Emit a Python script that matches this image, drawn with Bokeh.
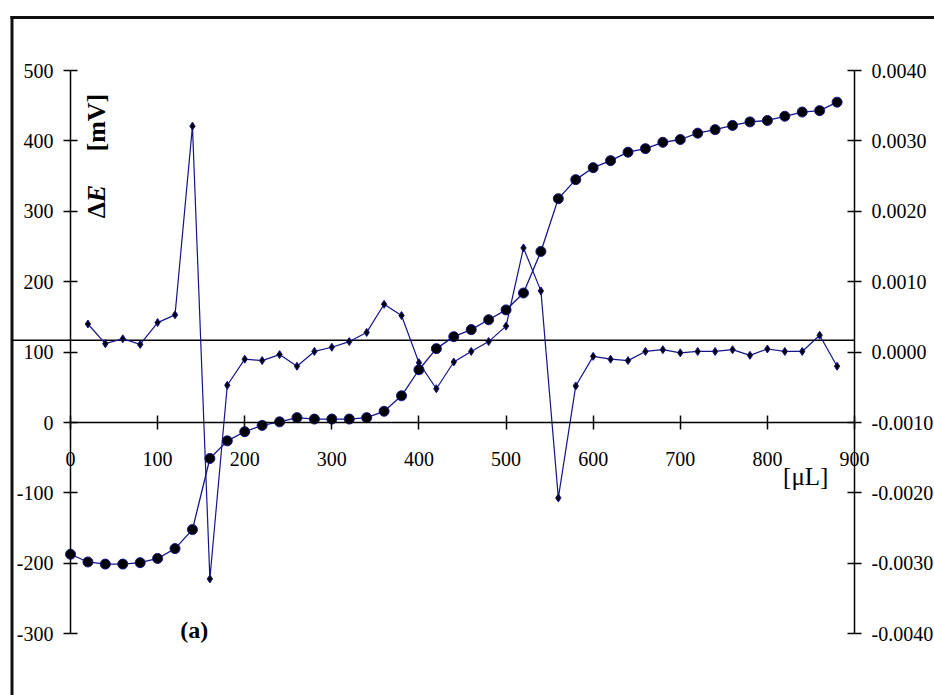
from bokeh.plotting import figure
from bokeh.models import (Range1d, LinearAxis, FixedTicker, PrintfTickFormatter,
                          Label)
from bokeh.embed import file_html
from bokeh.resources import INLINE
import math

# ---- data ----
volume_e = [0, 20, 40, 60, 80, 100, 120, 140, 160, 180, 200, 220, 240, 260, 280,
            300, 320, 340, 360, 380, 400, 420, 440, 460, 480, 500, 520, 540, 560,
            580, 600, 620, 640, 660, 680, 700, 720, 740, 760, 780, 800, 820, 840,
            860, 880]
delta_e_mv = [-187, -198, -201, -201, -199, -193, -179, -152, -51, -26, -13, -4, 1,
              7, 5, 5, 5, 7, 16, 38, 75, 105, 122, 132, 146, 160, 184, 243, 318,
              345, 362, 372, 384, 389, 398, 402, 411, 416, 422, 427, 429, 435, 441,
              443, 455]

volume_d = [20, 40, 60, 80, 100, 120, 140, 160, 180, 200, 220, 240, 260, 280, 300,
            320, 340, 360, 380, 400, 420, 440, 460, 480, 500, 520, 540, 560, 580,
            600, 620, 640, 660, 680, 700, 720, 740, 760, 780, 800, 820, 840, 860,
            880]
derivative = [0.00040, 0.00012, 0.00019, 0.00011, 0.00042, 0.00053, 0.00321,
              -0.00322, -0.00047, -0.00010, -0.00012, -0.000035, -0.00020, 0.00001,
              0.00007, 0.00015, 0.00028, 0.00068, 0.00052, -0.00015, -0.00052,
              -0.00014, 0.00001, 0.00015, 0.00037, 0.00148, 0.00087, -0.00207,
              -0.00048, -0.00006, -0.00010, -0.00012, 0.00001, 0.000035, -0.00001,
              0.00001, 0.00001, 0.000035, -0.000045, 0.000045, 0.00001, 0.00001,
              0.00024, -0.00020]

x_ticks = [0, 100, 200, 300, 400, 500, 600, 700, 800, 900]
left_ticks = [-300, -200, -100, 0, 100, 200, 300, 400, 500]
right_ticks = [-0.004, -0.003, -0.002, -0.001, 0.0, 0.001, 0.002, 0.003, 0.004]
secondary_baseline = 0.00017   # horizontal line drawn on the secondary scale

# ---- layout constants (pixels in the 934x695 page) ----
W, H = 934, 695
X0_PX, X1_PX = 70, 854          # where x = 0 and x = 900 fall
Y_TOP_PX, Y_BOT_PX = 70, 633.3  # where y = 500 and y = -300 fall
X_LO, X_HI = 0, 900
L_LO, L_HI = -300, 500
R_LO, R_HI = -0.004, 0.004
BORDER_LEFT_PX, BORDER_TOP_PX = 11.5, 17

pxx = (X1_PX - X0_PX) / (X_HI - X_LO)
pxy = (Y_BOT_PX - Y_TOP_PX) / (L_HI - L_LO)
x_start = X_LO - X0_PX / pxx
x_end = X_LO + (W - X0_PX) / pxx
y_end = L_HI + Y_TOP_PX / pxy
y_start = y_end - H / pxy


def to_right(v):
    return R_LO + (v - L_LO) / (L_HI - L_LO) * (R_HI - R_LO)


def to_left(r):
    return L_LO + (r - R_LO) / (R_HI - R_LO) * (L_HI - L_LO)


SERIF = "Liberation Serif"
NAVY = "#14148c"

p = figure(width=W, height=H, output_backend="svg", toolbar_location=None,
           x_range=Range1d(x_start, x_end), y_range=Range1d(y_start, y_end),
           min_border=0, outline_line_color=None,
           background_fill_color="white", border_fill_color="white",
           x_axis_location=None, y_axis_location=None)
p.grid.visible = False
p.extra_y_ranges = {"deriv": Range1d(to_right(y_start), to_right(y_end))}


def style_axis(ax):
    ax.major_tick_in = 7
    ax.major_tick_out = 7
    ax.minor_tick_line_color = None
    ax.major_label_text_font = SERIF
    ax.major_label_text_font_size = "20px"
    ax.major_label_text_color = "black"
    ax.axis_line_color = "black"
    ax.axis_line_width = 1.5
    ax.major_tick_line_color = "black"
    ax.major_tick_line_width = 1.5


# x axis crossing at y = 0
xa = LinearAxis(ticker=FixedTicker(ticks=x_ticks),
                formatter=PrintfTickFormatter(format="%d"),
                fixed_location=0, bounds=(X_LO, X_HI))
style_axis(xa)
xa.major_label_standoff = 22
p.add_layout(xa, "below")

ya = LinearAxis(ticker=FixedTicker(ticks=left_ticks),
                formatter=PrintfTickFormatter(format="%d"),
                fixed_location=X_LO, bounds=(L_LO, L_HI))
style_axis(ya)
ya.major_label_standoff = 10
p.add_layout(ya, "left")

ra = LinearAxis(y_range_name="deriv", ticker=FixedTicker(ticks=right_ticks),
                formatter=PrintfTickFormatter(format="%.4f"),
                fixed_location=X_HI, bounds=(R_LO, R_HI))
style_axis(ra)
ra.major_label_standoff = 10
p.add_layout(ra, "right")

# chart-area border (only its top and left edges fall inside the page)
border_x = x_start + BORDER_LEFT_PX / pxx
border_y = y_end - BORDER_TOP_PX / pxy
p.segment(x0=[border_x, border_x], y0=[y_start, border_y],
          x1=[border_x, x_end], y1=[border_y, border_y],
          line_color="#111111", line_width=3, line_cap="square")

# horizontal line on the secondary scale, from the border to the right axis
line_level = to_left(secondary_baseline)
p.segment(x0=[border_x], y0=[line_level], x1=[X_HI], y1=[line_level],
          line_color="black", line_width=1.5)

# derivative series (right axis)
p.line(volume_d, derivative, y_range_name="deriv", line_color=NAVY, line_width=1.2)
p.scatter(volume_d, derivative, y_range_name="deriv", marker="diamond", size=8,
          fill_color="black", line_color=NAVY, line_width=1)

# potential series (left axis)
p.line(volume_e, delta_e_mv, line_color=NAVY, line_width=1.3)
p.scatter(volume_e, delta_e_mv, marker="circle", size=10, fill_color="black",
          line_color=NAVY, line_width=1)

# texts
p.add_layout(Label(x=30, y=290, text="Δ", angle=math.pi / 2, text_font=SERIF,
                   text_font_size="26px", text_font_style="bold",
                   text_align="left", text_baseline="middle", text_color="black"))
p.add_layout(Label(x=30, y=313, text="E", angle=math.pi / 2, text_font=SERIF,
                   text_font_size="26px", text_font_style="bold italic",
                   text_align="left", text_baseline="middle", text_color="black"))
p.add_layout(Label(x=30, y=385, text="[mV]", angle=math.pi / 2, text_font=SERIF,
                   text_font_size="26px", text_font_style="bold",
                   text_align="left", text_baseline="middle", text_color="black"))
p.add_layout(Label(x=142, y=-295, text="(a)", text_font=SERIF,
                   text_font_size="24px", text_font_style="bold",
                   text_align="center", text_baseline="middle", text_color="black"))
p.add_layout(Label(x=818, y=-77, text="[μL]", text_font=SERIF,
                   text_font_size="25px", text_align="left",
                   text_baseline="middle", text_color="black"))

open("out.html", "w").write(file_html(p, INLINE))
